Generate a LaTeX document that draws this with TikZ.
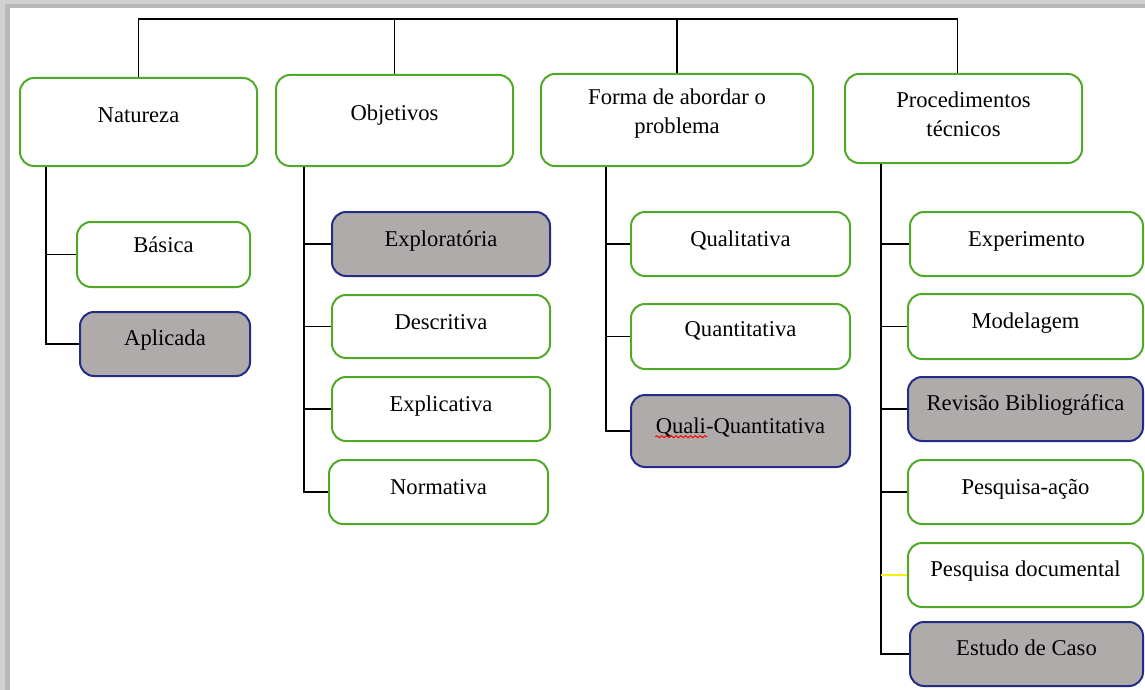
\documentclass[tikz,border=0pt]{standalone}
\usepackage{fontspec}
\setmainfont{Liberation Serif}
\usetikzlibrary{fit,calc,decorations.pathmorphing}
\definecolor{bgreen}{RGB}{80,170,40}
\definecolor{bnavy}{RGB}{35,45,135}
\definecolor{bgray}{RGB}{175,171,171}
\definecolor{byellow}{RGB}{250,240,20}
\begin{document}
\begin{tikzpicture}[x=0.5pt,y=-0.5pt,
  whitebox/.style={draw=bgreen, line width=1pt, fill=white, rounded corners=7pt, inner sep=0pt},
  graybox/.style={draw=bnavy, line width=1pt, fill=bgray, rounded corners=7pt, inner sep=0pt},
  txt/.style={inner sep=0pt, text height=7.5pt, text depth=0pt, font=\fontsize{11.3}{14.5}\selectfont},
  txtm/.style={inner sep=0pt, align=center, font=\fontsize{11.3}{14.5}\selectfont},
  conn/.style={draw=black, line width=0.9pt},
]
\useasboundingbox (0,0) rectangle (1145,690);
\fill[black!18] (0,0) rectangle (1145,690);
\fill[black!28] (5,4) rectangle (1145,690);
\fill[white] (10,8) rectangle (1145,690);

% top level boxes
\node[whitebox, fit={(20,78) (257,166)}] (nat) {};
\node[whitebox, fit={(276,75) (513,166)}] (obj) {};
\node[whitebox, fit={(541,74) (813,166)}] (for) {};
\node[whitebox, fit={(845,74) (1082,163)}] (pro) {};
\node[txt] (nat-t) at ($(nat.north)+(0,38)$) {Natureza};
\node[txt] (obj-t) at ($(obj.north)+(0,39)$) {Objetivos};
\node[txtm] (for-t) at ($(for.north)+(0,41)$) {Forma de abordar o\\problema};
\node[txtm] (pro-t) at ($(pro.north)+(0,41)$) {Procedimentos\\técnicos};

% Natureza children
\node[whitebox, fit={(77,222) (250,287)}] (bas) {};
\node[graybox, fit={(80,312) (250,376)}] (apl) {};
% Objetivos children
\node[graybox, fit={(332,212) (550,276)}] (exp) {};
\node[whitebox, fit={(332,295) (550,358)}] (des) {};
\node[whitebox, fit={(332,377) (550,441)}] (expl) {};
\node[whitebox, fit={(329,460) (548,524)}] (nor) {};
% Forma children
\node[whitebox, fit={(631,212) (850,276)}] (qual) {};
\node[whitebox, fit={(631,304) (850,369)}] (quan) {};
\node[graybox, fit={(631,395) (850,467)}] (qq) {};
% Procedimentos children
\node[whitebox, fit={(910,212) (1143,276)}] (expe) {};
\node[whitebox, fit={(908,294) (1143,359)}] (mod) {};
\node[graybox, fit={(908,377) (1143,441)}] (rev) {};
\node[whitebox, fit={(908,460) (1143,524)}] (pac) {};
\node[whitebox, fit={(908,543) (1143,607)}] (pdoc) {};
\node[graybox, fit={(910,622) (1143,686)}] (est) {};

% texts
\node[txt] (bas-t) at ($(bas.north)+(0,24)$) {Básica};
\node[txt] (apl-t) at ($(apl.north)+(0,27)$) {Aplicada};
\node[txt] (exp-t) at ($(exp.north)+(0,28)$) {Exploratória};
\node[txt] (des-t) at ($(des.north)+(0,28)$) {Descritiva};
\node[txt] (expl-t) at ($(expl.north)+(0,28)$) {Explicativa};
\node[txt] (nor-t) at ($(nor.north)+(0,28)$) {Normativa};
\node[txt] (qual-t) at ($(qual.north)+(0,28)$) {Qualitativa};
\node[txt] (quan-t) at ($(quan.north)+(0,26)$) {Quantitativa};
\node[txt] (qq-t) at ($(qq.north)+(0,32)$) {Quali-Quantitativa};
\node[txt] (expe-t) at ($(expe.north)+(0,28)$) {Experimento};
\node[txt] (mod-t) at ($(mod.north)+(0,28)$) {Modelagem};
\node[txt] (rev-t) at ($(rev.north)+(0,27)$) {Revisão Bibliográfica};
\node[txt] (pac-t) at ($(pac.north)+(0,28)$) {Pesquisa-ação};
\node[txt] (pdoc-t) at ($(pdoc.north)+(0,27)$) {Pesquisa documental};
\node[txt] (est-t) at ($(est.north)+(0,27)$) {Estudo de Caso};

% spell-check squiggle under "Quali"
\draw[red, line width=0.5pt, decorate, decoration={snake, amplitude=0.5pt, segment length=2.4pt}]
  ([yshift=-1.6pt]qq-t.base west) -- ++(52,0);

% top bus
\draw[conn] (nat.north) -- ++(0,-58) coordinate (bus) -| ($(pro.north)+(-6,0)$);
\draw[conn] (obj.north) -- (obj.north |- bus);
\draw[conn] (for.north) -- (for.north |- bus);

% branch verticals
\coordinate (natv) at ($(nat.south west)+(27,0)$);
\coordinate (objv) at ($(obj.south west)+(29,0)$);
\coordinate (forv) at ($(for.south west)+(66,0)$);
\coordinate (prov) at ($(pro.south west)+(37,0)$);

\draw[conn] (natv) |- (bas.west);
\draw[conn] (natv) |- (apl.west);

\draw[conn] (objv) |- (exp.west);
\draw[conn] (objv) |- (des.west);
\draw[conn] (objv) |- (expl.west);
\draw[conn] (objv) |- (nor.west);

\draw[conn] (forv) |- (qual.west);
\draw[conn] (forv) |- (quan.west);
\draw[conn] (forv) |- (qq.west);

\draw[conn] (prov) |- (est.west);
\draw[conn] (prov) |- (expe.west);
\draw[conn] (prov) |- (mod.west);
\draw[conn] (prov) |- (rev.west);
\draw[conn] (prov) |- (pac.west);
\draw[conn, draw=byellow] (prov |- pdoc.west) -- (pdoc.west);
\end{tikzpicture}
\end{document}
